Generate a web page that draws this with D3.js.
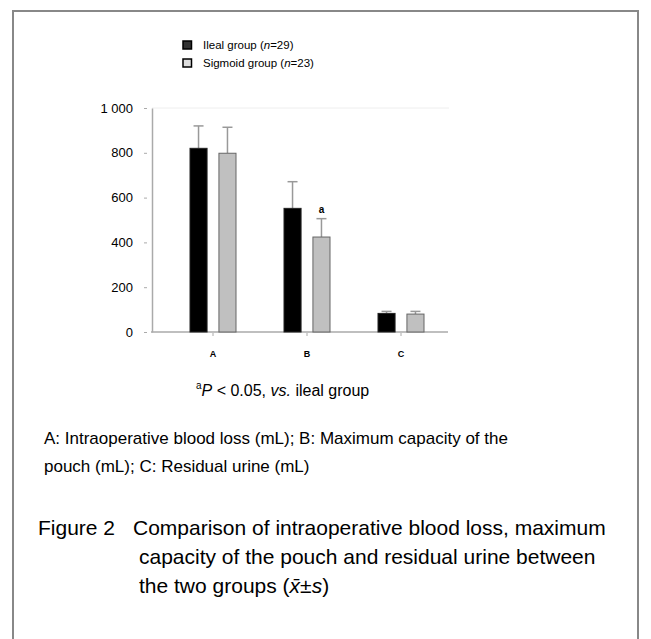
<!DOCTYPE html>
<html><head><meta charset="utf-8">
<script src="https://cdn.jsdelivr.net/npm/d3@7"></script>
<style>body{margin:0;background:#fff} svg{display:block} text{font-family:"Liberation Sans",Arial,sans-serif;fill:#000}</style>
</head><body><svg id="c" width="651" height="639"></svg>
<script>
const categories = ["A", "B", "C"];
const seriesKeys = ["ileal", "sigmoid"];
const seriesLabels = ["Ileal group (", "Sigmoid group ("];
const seriesN = ["29", "23"];
const ilealMeans = [820, 552, 83];
const ilealSD = [100, 119, 9];
const sigmoidMeans = [798, 424, 80];
const sigmoidSD = [116, 82, 12];
const sigmoidMarks = ["", "a", ""];
const yTicks = [0, 200, 400, 600, 800, 1000];
const yTickLabels = ["0", "200", "400", "600", "800", "1 000"];

const svg = d3.select("#c");
const font = '"Liberation Sans",Arial,sans-serif';

// frame
svg.append("path").attr("d", "M13,650V11H638V650").attr("fill", "none").attr("stroke", "#888").attr("stroke-width", 2);

const y = d3.scaleLinear().domain([0, 1000]).range([332, 108]);
const x = d3.scaleBand().domain(categories).range([166, 448]);
const x1 = d3.scaleBand().domain(seriesKeys).range([24, 70]).paddingInner(0.41);

const data = categories.map((c, i) => ({
  cat: c,
  vals: [
    {key: "ileal", mean: ilealMeans[i], sd: ilealSD[i], mark: ""},
    {key: "sigmoid", mean: sigmoidMeans[i], sd: sigmoidSD[i], mark: sigmoidMarks[i]}
  ]
}));

// faint top line of plot area
svg.append("line").attr("x1", 152).attr("x2", 449).attr("y1", y(1000)).attr("y2", y(1000)).attr("stroke", "#eee");

// y axis
const ya = svg.append("g").attr("transform", "translate(152,0)")
  .call(d3.axisLeft(y).tickValues(yTicks).tickFormat((d, i) => yTickLabels[i]).tickSize(4).tickSizeOuter(0));
ya.select(".domain").attr("stroke", "#aaa").attr("stroke-width", 1.5);
ya.selectAll(".tick line").attr("x1", -8).attr("x2", -5).attr("stroke", "#aaa");
ya.selectAll(".tick text").attr("x", -19).attr("font-size", 13).attr("font-family", font);

// x axis
svg.append("line").attr("x1", 151).attr("x2", 448).attr("y1", 332).attr("y2", 332).attr("stroke", "#aaa").attr("stroke-width", 1.5);
const xa = svg.append("g").attr("transform", "translate(0,332)")
  .call(d3.axisBottom(x).tickSize(3));
xa.select(".domain").remove();
xa.selectAll(".tick line").attr("stroke", "#aaa").attr("y1", 1).attr("y2", 4);
xa.selectAll(".tick text").attr("y", 25).attr("dy", 0).attr("font-size", 9).attr("font-weight", "bold").attr("font-family", font).attr("fill", "#222");

const fills = {ileal: "#000", sigmoid: "#c0c0c0"};
const strokes = {ileal: "#222", sigmoid: "#666"};

const groups = svg.append("g").selectAll("g").data(data).join("g")
  .attr("transform", d => `translate(${x(d.cat)},0)`);

// error bars
groups.selectAll("g.err").data(d => d.vals).join("g").attr("class", "err").each(function(v) {
  const g = d3.select(this);
  const cx = x1(v.key) + x1.bandwidth() / 2;
  g.append("line").attr("x1", cx).attr("x2", cx).attr("y1", y(v.mean)).attr("y2", y(v.mean + v.sd)).attr("stroke", "#999").attr("stroke-width", 1.5);
  g.append("line").attr("x1", cx - 5).attr("x2", cx + 5).attr("y1", y(v.mean + v.sd)).attr("y2", y(v.mean + v.sd)).attr("stroke", "#999").attr("stroke-width", 1.5);
  if (v.mark) {
    g.append("text").attr("x", cx).attr("y", y(v.mean + v.sd) - 6).attr("text-anchor", "middle")
      .attr("font-size", 10).attr("font-weight", "bold").attr("fill", "#444").text(v.mark);
  }
});

groups.selectAll("rect").data(d => d.vals).join("rect")
  .attr("x", v => x1(v.key)).attr("width", x1.bandwidth())
  .attr("y", v => y(v.mean)).attr("height", v => y(0) - y(v.mean))
  .attr("fill", v => fills[v.key]).attr("stroke", v => strokes[v.key]).attr("stroke-width", 1);

// legend
const legFill = {ileal: "#333", sigmoid: "#ddd"};
seriesKeys.forEach((k, i) => {
  const ly = 41 + i * 18;
  svg.append("rect").attr("x", 183).attr("y", ly).attr("width", 8.5).attr("height", 8)
    .attr("fill", legFill[k]).attr("stroke", "#000").attr("stroke-width", 1.5);
  const t = svg.append("text").attr("x", 203).attr("y", ly + 8).attr("font-size", 11.5);
  t.append("tspan").text(seriesLabels[i]);
  t.append("tspan").attr("font-style", "italic").text("n");
  t.append("tspan").text("=" + seriesN[i] + ")");
});

// footnote
const fn = svg.append("text").attr("x", 196).attr("y", 396).attr("font-size", 16);
fn.append("tspan").attr("font-size", 10).attr("dy", -7).text("a");
fn.append("tspan").attr("font-style", "italic").attr("dy", 7).text("P");
fn.append("tspan").text(" < 0.05, ");
fn.append("tspan").attr("font-style", "italic").text("vs.");
fn.append("tspan").text(" ileal group");

svg.append("text").attr("x", 44).attr("y", 444).attr("font-size", 17).text("A: Intraoperative blood loss (mL); B: Maximum capacity of the");
svg.append("text").attr("x", 44).attr("y", 472).attr("font-size", 17).text("pouch (mL); C: Residual urine (mL)");

// caption
svg.append("text").attr("x", 38).attr("y", 535).attr("font-size", 21).text("Figure 2");
svg.append("text").attr("x", 133).attr("y", 535).attr("font-size", 21).text("Comparison of intraoperative blood loss, maximum");
svg.append("text").attr("x", 139).attr("y", 564).attr("font-size", 21).text("capacity of the pouch and residual urine between");
const c3 = svg.append("text").attr("x", 139).attr("y", 593).attr("font-size", 21);
c3.append("tspan").text("the two groups (");
c3.append("tspan").attr("font-style", "italic").text("x\u0304");
c3.append("tspan").text("±");
c3.append("tspan").attr("font-style", "italic").text("s");
c3.append("tspan").text(")");
</script></body></html>
